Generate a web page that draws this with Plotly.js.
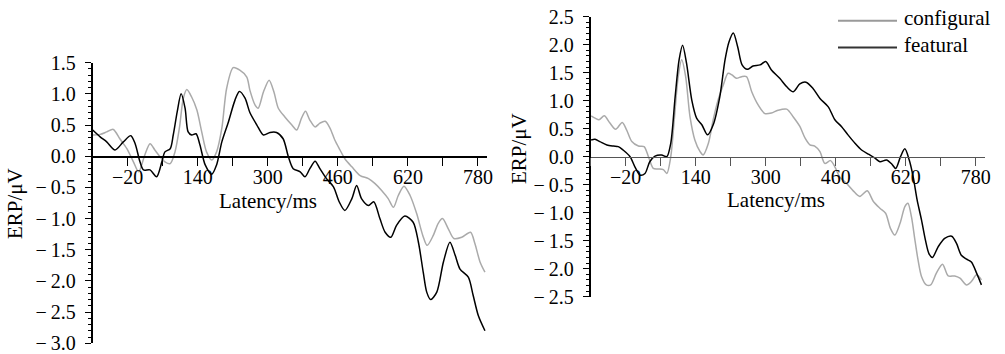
<!DOCTYPE html>
<html>
<head>
<meta charset="utf-8">
<script src="https://cdn.plot.ly/plotly-3.0.1.min.js"></script>
<style>
html,body{margin:0;padding:0;background:#fff;}
#chart{width:1005px;height:354px;}
#chart text{font-family:'Liberation Serif','Times New Roman',serif !important;}
</style>
</head>
<body>
<div id="chart"></div>
<script>
// ---------- data (latency in ms, amplitude in µV) ----------
const seriesNames = ['configural', 'featural'];
const xTitle = 'Latency/ms';
const yTitle = 'ERP/\u03bcV';
const xTickVals = [-100, -20, 60, 140, 220, 300, 380, 460, 540, 620, 700, 780];
const xTickText = ['', '\u221220', '', '140', '', '300', '', '460', '', '620', '', '780'];
const yTickValsL = [-3, -2.5, -2, -1.5, -1, -0.5, 0, 0.5, 1, 1.5];
const yTickTextL = ['\u2212\u20093.0', '\u2212\u20092.5', '\u2212\u20092.0', '\u2212\u20091.5', '\u2212\u20091.0', '\u2212\u20090.5', '0.0', '0.5', '1.0', '1.5'];
const yTickValsR = [-2.5, -2, -1.5, -1, -0.5, 0, 0.5, 1, 1.5, 2, 2.5];
const yTickTextR = ['\u2212\u20092.5', '\u2212\u20092.0', '\u2212\u20091.5', '\u2212\u20091.0', '\u2212\u20090.5', '0.0', '0.5', '1.0', '1.5', '2.0', '2.5'];

// Left panel
const leftFeatX = [-100,-83,-68,-49,-30,-13,-3,8,16,31,46,58,65,77,84,93,102,111,118,126,136,145,157,172,183,195,210,225,235,248,259,275,290,305,320,335,347,358,374,385,396,408,419,434,450,463,476,492,503,514,530,542,556,568,581,594,613,632,644,655,663,672,686,701,716,728,739,758,769,781,796];
const leftFeatY = [0.42,0.31,0.23,0.10,0.23,0.33,0.20,-0.09,-0.22,-0.22,-0.33,-0.09,0.07,0.12,0.34,0.71,1.00,0.77,0.39,0.34,0.36,0.18,-0.14,-0.29,-0.14,0.23,0.55,0.90,1.04,0.93,0.70,0.50,0.34,0.38,0.38,0.28,-0.01,-0.20,-0.25,-0.33,-0.20,-0.08,-0.20,-0.36,-0.49,-0.73,-0.87,-0.68,-0.47,-0.68,-0.79,-0.73,-1.00,-1.22,-1.30,-1.11,-0.96,-1.06,-1.38,-1.86,-2.18,-2.30,-2.18,-1.70,-1.38,-1.59,-1.81,-1.94,-2.23,-2.56,-2.80];
const leftConfX = [-100,-83,-68,-53,-38,-22,-7,5,19,31,42,54,65,77,88,98,107,115,126,138,149,160,172,183,195,206,221,236,252,259,271,278,290,303,314,324,339,355,366,377,386,396,408,419,431,442,453,465,476,492,511,530,545,560,575,587,598,611,625,640,654,664,678,689,699,712,725,743,763,773,785,796];
const leftConfY = [0.34,0.35,0.39,0.43,0.28,0.12,-0.09,-0.25,0.02,0.20,0.10,-0.01,-0.09,-0.12,0.07,0.45,0.93,1.07,0.95,0.74,0.39,0.07,-0.06,0.07,0.45,1.09,1.42,1.38,1.27,1.06,0.82,0.77,1.03,1.22,1.03,0.77,0.63,0.50,0.42,0.61,0.72,0.58,0.47,0.53,0.56,0.45,0.26,0.10,-0.04,-0.17,-0.31,-0.36,-0.44,-0.55,-0.68,-0.82,-0.63,-0.48,-0.63,-0.92,-1.27,-1.43,-1.27,-1.08,-1.00,-1.16,-1.32,-1.30,-1.22,-1.40,-1.70,-1.86];

// Right panel
const rightFeatX = [-99,-90,-79,-63,-48,-37,-26,-10,1,13,24,35,47,62,74,83,93,102,110,119,131,142,154,167,180,195,207,216,226,236,246,258,271,287,300,313,332,348,363,378,392,408,424,443,458,473,488,504,519,536,549,561,576,588,597,608,618,628,637,646,656,665,673,681,694,709,725,736,747,759,770,782,793];
const rightFeatY = [0.30,0.31,0.27,0.21,0.19,0.18,0.12,0.00,-0.18,-0.33,-0.30,-0.09,0.01,0.03,0.00,0.24,1.07,1.73,1.99,1.67,1.01,0.69,0.57,0.39,0.57,1.07,1.73,2.05,2.21,1.96,1.64,1.56,1.62,1.64,1.70,1.55,1.40,1.25,1.16,1.30,1.33,1.22,1.04,0.89,0.66,0.54,0.39,0.24,0.12,0.04,-0.02,-0.09,-0.06,-0.13,-0.21,0.00,0.14,-0.06,-0.36,-0.77,-1.13,-1.49,-1.73,-1.80,-1.61,-1.46,-1.42,-1.55,-1.76,-1.83,-1.88,-2.08,-2.29];
const rightConfX = [-99,-90,-81,-69,-56,-43,-28,-18,-6,9,22,32,43,54,66,74,83,91,100,108,117,127,138,150,157,169,180,191,203,214,223,233,245,256,268,283,298,313,328,348,363,378,390,401,412,424,435,448,458,469,485,500,515,532,546,561,574,585,595,607,618,625,633,641,648,656,667,677,690,704,717,732,744,759,770,782,793];
const rightConfY = [0.73,0.69,0.66,0.73,0.60,0.49,0.61,0.48,0.27,0.19,0.18,0.00,-0.21,-0.22,-0.23,-0.30,0.00,0.66,1.43,1.73,1.43,0.71,0.30,0.09,0.03,0.24,0.66,1.01,1.28,1.49,1.46,1.40,1.43,1.43,1.16,0.92,0.77,0.78,0.83,0.85,0.71,0.54,0.33,0.21,0.19,0.09,-0.12,-0.07,-0.18,-0.36,-0.48,-0.61,-0.71,-0.61,-0.80,-0.92,-1.01,-1.28,-1.40,-1.19,-0.89,-0.83,-1.07,-1.49,-1.84,-2.14,-2.29,-2.29,-2.08,-1.92,-2.13,-2.13,-2.17,-2.29,-2.23,-2.11,-2.20];

// ---------- layout helpers ----------
const W = 1005, H = 354;
const fx = p => p / W;
const fy = p => 1 - p / H;
const FONT = 'Liberation Serif';
const GRAY = '#aaaaaa', BLACK = '#000000';

const xRange = [-100, 800];
const yRangeL = [-3.001, 1.5], yRangeR = [-2.501, 2.501];
const yDomL = [fy(343.3), fy(62.7)], yDomR = [fy(296.7), fy(16.7)];
const zeroPos = (dom, r) => dom[0] + (0 - r[0]) / (r[1] - r[0]) * (dom[1] - dom[0]);

function line(x, y, color, name, xa, ya) {
  return {x: x, y: y, type: 'scatter', mode: 'lines', name: name,
    xaxis: xa, yaxis: ya, showlegend: false, hoverinfo: 'skip',
    line: {color: color, width: 1.5, shape: 'spline', smoothing: 0.8}};
}

const traces = [
  line(leftConfX, leftConfY, GRAY, seriesNames[0], 'x', 'y'),
  line(leftFeatX, leftFeatY, BLACK, seriesNames[1], 'x', 'y'),
  line(rightConfX, rightConfY, GRAY, seriesNames[0], 'x2', 'y2'),
  line(rightFeatX, rightFeatY, BLACK, seriesNames[1], 'x2', 'y2')
];

function xAxis(dom, yDom, yR, lc) {
  return {domain: dom, range: xRange, anchor: 'free', position: zeroPos(yDom, yR),
    showgrid: false, zeroline: false, showline: true, linecolor: lc, linewidth: 1.3,
    tickmode: 'array', tickvals: xTickVals, ticktext: xTickText,
    ticks: 'outside', ticklen: 8, tickcolor: lc, tickwidth: 1, ticklabelstandoff: -6,
    ticklabeloverflow: 'allow',
    tickfont: {family: FONT, size: 20, color: '#000'}, fixedrange: true};
}
function yAxis(dom, r, xa, tv, tt) {
  return {domain: dom, range: r, anchor: xa, showgrid: false, zeroline: false,
    showline: true, linecolor: '#000', linewidth: 1.3, ticks: 'outside', ticklen: 6,
    tickcolor: '#000', tickmode: 'array', tickvals: tv,
    ticktext: tt.map(s => s + '\u2009\u200a\u200b'),
    ticklabeloverflow: 'allow',
    minor: {tickmode: 'linear', dtick: 0.1, tick0: 0, ticks: 'outside', ticklen: 3, tickcolor: '#000', showgrid: false},
    tickfont: {family: FONT, size: 20, color: '#000'},
    fixedrange: true};
}

// legend drawn as paper-space sample lines + labels
const legendRows = [20.7, 47.5];
const legendShapes = seriesNames.map((n, i) => ({type: 'line', xref: 'paper', yref: 'paper',
  x0: fx(838), x1: fx(897), y0: fy(legendRows[i]), y1: fy(legendRows[i]),
  line: {color: i === 0 ? '#9a9a9a' : '#333333', width: 2}}));
const legendLabels = seriesNames.map((n, i) => ({text: n, xref: 'paper', yref: 'paper',
  x: fx(902), y: fy(legendRows[i] - 2.5), xanchor: 'left', yanchor: 'middle', showarrow: false,
  font: {family: FONT, size: 21, color: '#000'}}));

const tfont = {family: FONT, size: 21, color: '#000'};
const titles = [
  {text: xTitle, x: fx(267.5), y: fy(201), textangle: 0},
  {text: xTitle, x: fx(776), y: fy(200), textangle: 0},
  {text: yTitle, x: fx(15), y: fy(204), textangle: -90},
  {text: yTitle, x: fx(519), y: fy(149), textangle: -90}
].map(a => Object.assign({xref: 'paper', yref: 'paper', xanchor: 'center', yanchor: 'middle', showarrow: false, font: tfont}, a));

const layout = {
  width: W, height: H, margin: {l: 0, r: 0, t: 0, b: 0},
  paper_bgcolor: '#fff', plot_bgcolor: 'rgba(0,0,0,0)',
  font: {family: FONT, size: 20, color: '#000'},
  xaxis: xAxis([fx(92.7), fx(486.7)], yDomL, yRangeL, '#000'),
  yaxis: yAxis(yDomL, yRangeL, 'x', yTickValsL, yTickTextL),
  xaxis2: xAxis([fx(590.7), fx(984.5)], yDomR, yRangeR, '#555'),
  yaxis2: yAxis(yDomR, yRangeR, 'x2', yTickValsR, yTickTextR),
  showlegend: false,
  shapes: legendShapes,
  annotations: titles.concat(legendLabels)
};

Plotly.newPlot('chart', traces, layout, {displayModeBar: false, staticPlot: true}).then(gd => {
  gd.querySelectorAll('text').forEach(t => t.style.setProperty('font-family', "'Liberation Serif', serif", 'important'));
});
</script>
</body>
</html>
